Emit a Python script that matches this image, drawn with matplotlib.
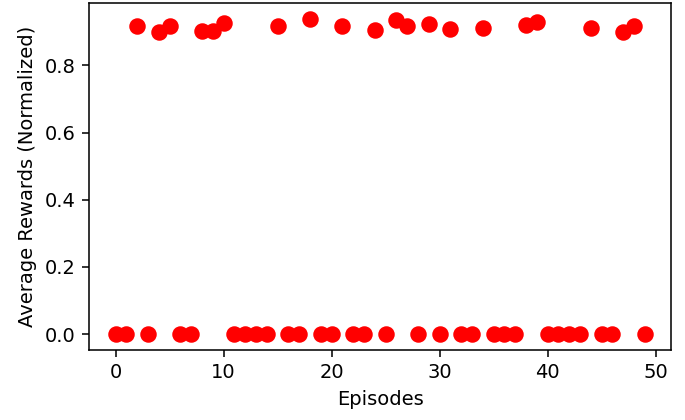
import matplotlib

matplotlib.use("Agg")
import matplotlib.pyplot as plt
import numpy as np

# episodes that reached the goal (normalized reward near 0.9)
EPISODES = np.arange(50)
HIT_EPISODES = [2, 4, 5, 8, 9, 10, 15, 18, 21, 24, 26, 27, 29, 31, 34, 38, 39, 44, 47, 48]
HIT_REWARDS = [0.916, 0.901, 0.916, 0.902, 0.902, 0.926, 0.916, 0.938, 0.916, 0.907,
               0.934, 0.916, 0.922, 0.908, 0.912, 0.921, 0.930, 0.912, 0.899, 0.917]

rewards = np.zeros(len(EPISODES))
rewards[HIT_EPISODES] = HIT_REWARDS

DPI = 140
fig = plt.figure(figsize=(685 / DPI, 420 / DPI), dpi=DPI)
ax = fig.add_axes([0.130, 0.167, 0.850, 0.825])
ax.scatter(EPISODES, rewards, color="red", s=56)
ax.set_xlabel("Episodes")
ax.set_ylabel("Average Rewards (Normalized)")
fig.savefig("out.png", dpi=DPI)
